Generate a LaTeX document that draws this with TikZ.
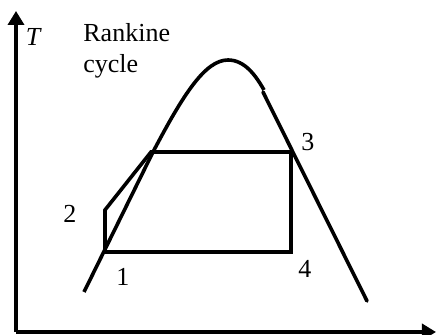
\documentclass[tikz,border=0pt]{standalone}
\usepackage{fontspec}
\setmainfont{Liberation Serif}
\usetikzlibrary{arrows.meta}

\begin{document}
\begin{tikzpicture}[
  x=0.5pt, y=-0.5pt,
  font=\rmfamily\fontsize{13}{15.6}\selectfont,
  line cap=butt, line join=miter,
  axis/.style={-{Triangle[length=7pt,width=8pt]}, line width=2pt},
  dome/.style={line width=1.8pt},
  cyc/.style={line width=1.8pt},
  ptlbl/.style={inner sep=0pt}
]
\useasboundingbox (0,0) rectangle (436,335);

% =========================================================================
% Osi
% =========================================================================
\coordinate (origin) at (16,332);
\coordinate (ytip)   at (16,11);
\coordinate (xtip)   at (436,332);
\draw[axis] (origin) -- (ytip);
\draw[axis] (origin) -- (xtip);

\node[ptlbl, font=\rmfamily\itshape\fontsize{13}{15.6}\selectfont] (tlbl) at (33,37) {T};
\node[ptlbl, anchor=west, align=left] (title) at (83,51) {Rankine\\cycle};

% =========================================================================
% Krivka nasýtenia
% =========================================================================
\coordinate (liqlow) at (84,292);
\coordinate (liqsat) at (153,152);
\coordinate (crit)   at (228,60);
\coordinate (kink)   at (264,90);
\coordinate (vaplow) at (367,301);

\draw[dome] (liqlow) -- (liqsat)
  .. controls (183,95) and (205,60) .. (crit)
  .. controls (245,60) and (256,76) .. (kink);
\draw[dome, line cap=round] (263,92) -- (vaplow);

% =========================================================================
% Cyklus 1-2-3-4
% =========================================================================
\coordinate (p1) at (105,252);
\coordinate (p2) at (105,210);
\coordinate (pb) at (151,152);
\coordinate (p3) at (291,152);
\coordinate (p4) at (291,252);

\draw[cyc] (p1) -- (p2) -- (pb) -- (p3) -- (p4) -- cycle;

\node[ptlbl] (l1) at (123,277) {1};
\node[ptlbl] (l2) at (70,214)  {2};
\node[ptlbl] (l3) at (308,142) {3};
\node[ptlbl] (l4) at (305,269) {4};

\end{tikzpicture}
\end{document}
